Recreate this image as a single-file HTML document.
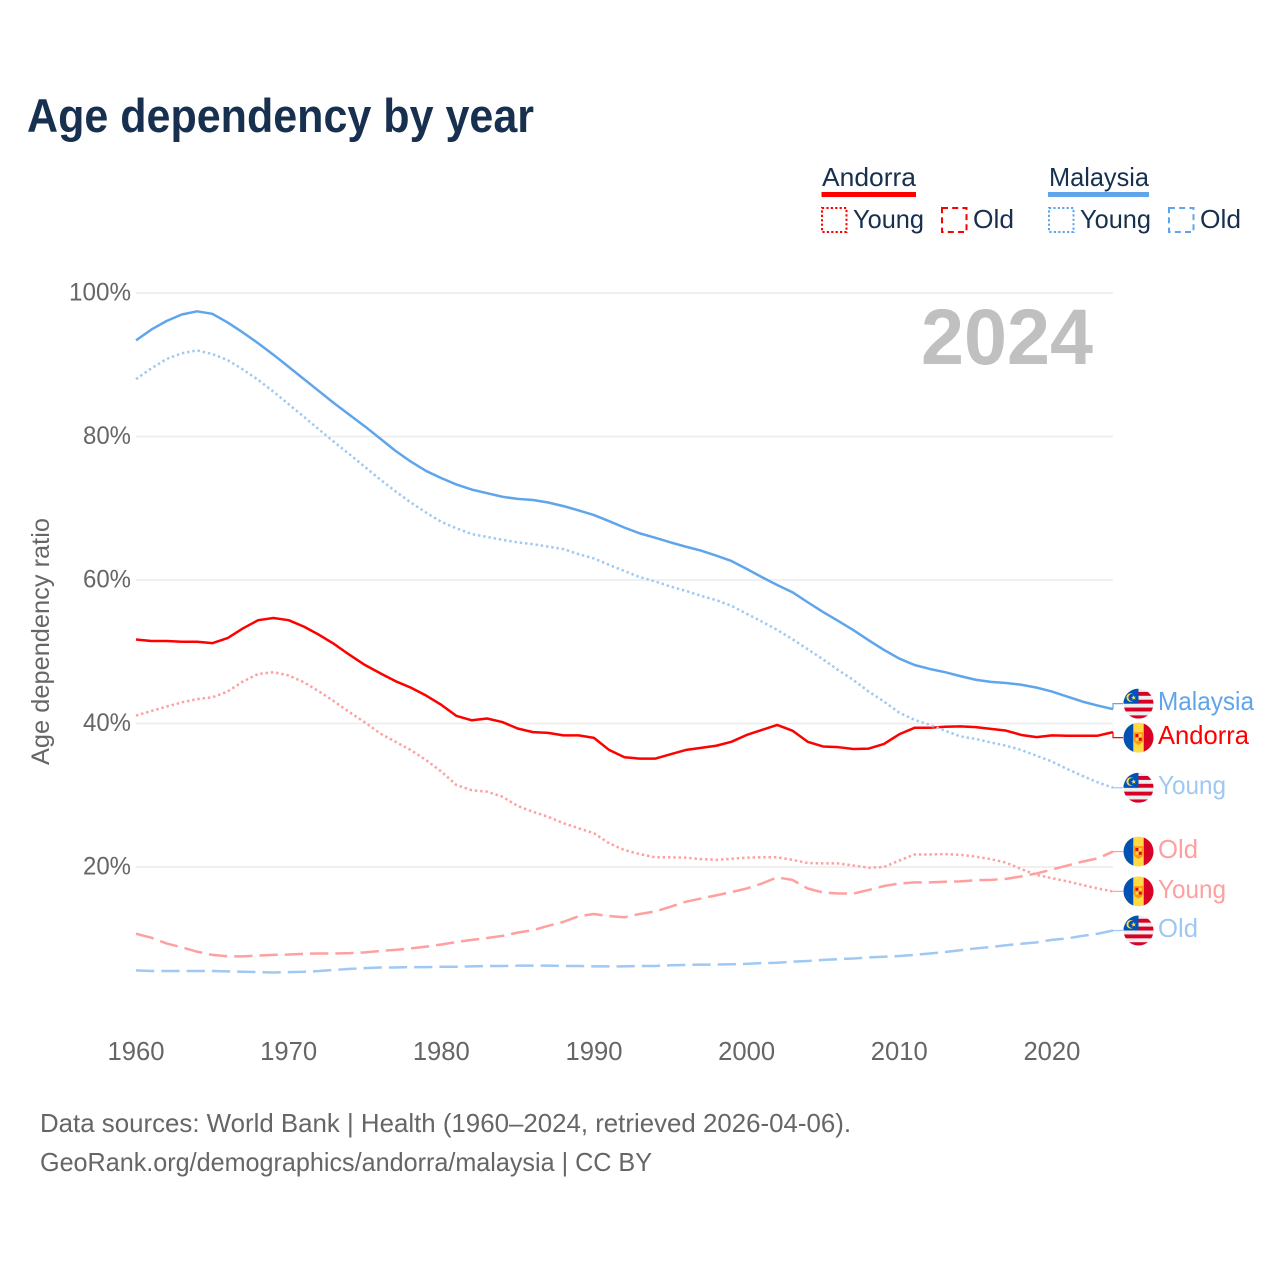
<!DOCTYPE html>
<html lang="en">
<head>
<meta charset="utf-8">
<title>Age dependency by year</title>
<style>
  html, body { margin: 0; padding: 0; background: #fff; }
  svg { display: block; font-family: "Liberation Sans", sans-serif; }
</style>
</head>
<body>
<svg id="chart" xmlns="http://www.w3.org/2000/svg" width="1280" height="1280" viewBox="0 0 1280 1280">
  <defs>
    <clipPath id="flag-clip"><circle cx="256" cy="256" r="256"/></clipPath>
    <symbol id="flag-malaysia" viewBox="0 0 512 512">
      <g clip-path="url(#flag-clip)">
        <rect width="512" height="512" fill="#eeeeee"/>
        <rect y="55.6" width="512" height="66.8" fill="#d80027"/>
        <rect y="189.2" width="512" height="66.8" fill="#d80027"/>
        <rect y="322.8" width="512" height="66.8" fill="#d80027"/>
        <rect y="456.4" width="512" height="56" fill="#d80027"/>
        <rect width="256" height="256" fill="#0052b4"/>
        <circle cx="122" cy="152" r="72" fill="#ffda44"/>
        <circle cx="146" cy="152" r="62" fill="#0052b4"/>
        <polygon points="172,112 182,140 212,136 192,158 206,186 176,174 152,192 156,162 132,146 160,138" fill="#ffda44"/>
      </g>
    </symbol>
    <symbol id="flag-andorra" viewBox="0 0 512 512">
      <g clip-path="url(#flag-clip)">
        <rect width="512" height="512" fill="#ffda44"/>
        <rect width="167" height="512" fill="#0052b4"/>
        <rect x="345" width="167" height="512" fill="#d80027"/>
        <path d="M178 165h156v130q0 50-78 85q-78-35-78-85z" fill="#ff9811"/>
        <rect x="205" y="195" width="48" height="48" fill="#d80027"/>
        <rect x="262" y="262" width="48" height="48" fill="#d80027"/>
        <rect x="262" y="195" width="48" height="48" fill="#ffda44"/>
        <rect x="205" y="262" width="48" height="48" fill="#ffda44"/>
      </g>
    </symbol>
  </defs>

  <text x="27" y="132" font-size="47" font-weight="700" fill="#17304f" textLength="507" lengthAdjust="spacingAndGlyphs">Age dependency by year</text>

  <g font-size="26" fill="#17304f">
    <g>
      <text x="822" y="186" textLength="94" lengthAdjust="spacingAndGlyphs">Andorra</text>
      <rect x="821.5" y="192" width="94.5" height="5" fill="#ff0000"/>
      <rect x="822" y="208" width="24.5" height="24" fill="none" stroke="#ff0000" stroke-width="2" stroke-dasharray="2.2 2.2"/>
      <text x="853" y="228" textLength="71" lengthAdjust="spacingAndGlyphs">Young</text>
      <rect x="942" y="208" width="24.5" height="24" fill="none" stroke="#ff0000" stroke-width="2" stroke-dasharray="6 4.2"/>
      <text x="973" y="228" textLength="41" lengthAdjust="spacingAndGlyphs">Old</text>
    </g>
    <g>
      <text x="1049" y="186" textLength="100" lengthAdjust="spacingAndGlyphs">Malaysia</text>
      <rect x="1048" y="192" width="101" height="5" fill="#5fa5ec"/>
      <rect x="1049" y="208" width="24.5" height="24" fill="none" stroke="#5fa5ec" stroke-width="2" stroke-dasharray="2.2 2.2"/>
      <text x="1080" y="228" textLength="71" lengthAdjust="spacingAndGlyphs">Young</text>
      <rect x="1169" y="208" width="24.5" height="24" fill="none" stroke="#5fa5ec" stroke-width="2" stroke-dasharray="6 4.2"/>
      <text x="1200" y="228" textLength="41" lengthAdjust="spacingAndGlyphs">Old</text>
    </g>
  </g>

  <g id="grid"></g>
  <g id="y-axis"></g>
  <g id="x-axis"></g>

  <text transform="translate(49,765) rotate(-90)" font-size="25" fill="#666666" textLength="247" lengthAdjust="spacingAndGlyphs">Age dependency ratio</text>

  <text x="921" y="364" font-size="79" font-weight="700" fill="#c0c0c0" textLength="172" lengthAdjust="spacingAndGlyphs">2024</text>

  <g id="series"></g>
  <g id="end-labels"></g>

  <text x="40" y="1132" font-size="26" fill="#666666" textLength="811" lengthAdjust="spacingAndGlyphs">Data sources: World Bank | Health (1960–2024, retrieved 2026-04-06).</text>
  <text x="40" y="1171" font-size="26" fill="#666666" textLength="612" lengthAdjust="spacingAndGlyphs">GeoRank.org/demographics/andorra/malaysia | CC BY</text>
</svg>

<script>
const years = [1960,1961,1962,1963,1964,1965,1966,1967,1968,1969,1970,1971,1972,1973,1974,1975,1976,1977,1978,1979,1980,1981,1982,1983,1984,1985,1986,1987,1988,1989,1990,1991,1992,1993,1994,1995,1996,1997,1998,1999,2000,2001,2002,2003,2004,2005,2006,2007,2008,2009,2010,2011,2012,2013,2014,2015,2016,2017,2018,2019,2020,2021,2022,2023,2024];
const xTicks = [1960,1970,1980,1990,2000,2010,2020];
const yTicks = [20,40,60,80,100];

const malaysiaTotal = [93.4,94.9,96.1,97.0,97.45,97.1,95.9,94.5,93.0,91.4,89.7,88.0,86.3,84.6,83.0,81.4,79.7,78.0,76.5,75.2,74.2,73.3,72.6,72.1,71.6,71.3,71.15,70.8,70.3,69.7,69.05,68.2,67.3,66.5,65.9,65.25,64.65,64.1,63.4,62.65,61.55,60.4,59.3,58.3,56.9,55.55,54.3,53.0,51.6,50.25,49.05,48.15,47.6,47.15,46.6,46.1,45.8,45.65,45.4,45.0,44.45,43.75,43.05,42.5,42.0];
const malaysiaYoung = [88.0,89.5,90.8,91.6,92.0,91.5,90.65,89.35,87.9,86.25,84.5,82.75,80.95,79.2,77.5,75.75,74.0,72.35,70.8,69.4,68.1,67.2,66.4,66.0,65.6,65.25,65.0,64.65,64.3,63.6,63.0,62.1,61.25,60.4,59.8,59.1,58.5,57.8,57.2,56.4,55.3,54.2,53.05,51.75,50.35,48.95,47.45,46.05,44.45,43.05,41.5,40.5,39.8,39.0,38.2,37.85,37.35,36.9,36.3,35.5,34.7,33.65,32.7,31.8,31.05];
const malaysiaOld = [5.6,5.5,5.5,5.5,5.5,5.5,5.45,5.4,5.35,5.3,5.35,5.4,5.5,5.65,5.8,5.9,6.0,6.0,6.05,6.05,6.1,6.1,6.15,6.2,6.2,6.25,6.25,6.25,6.2,6.2,6.15,6.15,6.15,6.2,6.2,6.3,6.35,6.4,6.4,6.45,6.5,6.6,6.65,6.8,6.9,7.05,7.15,7.25,7.4,7.5,7.6,7.75,7.95,8.15,8.4,8.65,8.85,9.1,9.3,9.5,9.85,10.05,10.4,10.7,11.15];
const andorraTotal = [51.7,51.5,51.5,51.4,51.4,51.2,51.9,53.25,54.4,54.7,54.4,53.5,52.35,51.05,49.55,48.15,47.0,45.9,45.0,43.9,42.6,41.05,40.45,40.7,40.2,39.3,38.8,38.7,38.35,38.35,38.0,36.3,35.3,35.1,35.1,35.7,36.3,36.6,36.9,37.45,38.4,39.1,39.8,39.0,37.45,36.8,36.7,36.45,36.5,37.15,38.5,39.4,39.4,39.55,39.6,39.5,39.25,39.0,38.4,38.1,38.35,38.3,38.3,38.3,38.8];
const andorraYoung = [41.1,41.75,42.35,42.95,43.4,43.65,44.45,45.85,46.9,47.15,46.7,45.75,44.45,43.05,41.55,40.15,38.6,37.45,36.3,34.9,33.3,31.4,30.7,30.5,29.8,28.5,27.7,27.0,26.1,25.4,24.7,23.3,22.35,21.8,21.35,21.35,21.3,21.1,21.0,21.15,21.3,21.35,21.35,21.0,20.55,20.5,20.5,20.2,19.9,20.0,20.9,21.75,21.75,21.8,21.7,21.45,21.1,20.6,19.7,18.9,18.45,18.0,17.5,17.0,16.6];
const andorraOld = [10.7,10.15,9.35,8.8,8.2,7.75,7.55,7.55,7.65,7.75,7.8,7.9,7.95,7.95,8.0,8.1,8.3,8.45,8.65,8.9,9.2,9.55,9.85,10.1,10.4,10.85,11.2,11.8,12.35,13.15,13.45,13.15,13.0,13.45,13.8,14.45,15.15,15.6,16.05,16.5,17.0,17.7,18.55,18.2,17.0,16.45,16.3,16.3,16.8,17.35,17.7,17.85,17.85,17.95,18.0,18.15,18.2,18.35,18.7,19.1,19.65,20.2,20.75,21.2,22.15];

const seriesList = [
  { id: 'andorra-total', label: 'Andorra', flag: 'flag-andorra', values: andorraTotal, color: '#ff0000', dash: '' },
  { id: 'andorra-young', label: 'Young', flag: 'flag-andorra', values: andorraYoung, color: '#ff9f9f', dash: '2.4 2.9' },
  { id: 'andorra-old', label: 'Old', flag: 'flag-andorra', values: andorraOld, color: '#ff9f9f', dash: '18.3 7' },
  { id: 'malaysia-total', label: 'Malaysia', flag: 'flag-malaysia', values: malaysiaTotal, color: '#5fa5ec', dash: '' },
  { id: 'malaysia-young', label: 'Young', flag: 'flag-malaysia', values: malaysiaYoung, color: '#9fc8f3', dash: '2.4 2.9' },
  { id: 'malaysia-old', label: 'Old', flag: 'flag-malaysia', values: malaysiaOld, color: '#9fc8f3', dash: '18.3 7' }
];

const labelWidths = { Malaysia: 96, Andorra: 91, Young: 68, Old: 40 };
const SVG_NS = 'http://www.w3.org/2000/svg';
const plotLeft = 136, plotRight = 1113, y100 = 293, pxPerPercent = 7.175;

function xScale(year) {
  return plotLeft + (year - years[0]) * (plotRight - plotLeft) / (years[years.length - 1] - years[0]);
}
function yScale(value) {
  return y100 + (100 - value) * pxPerPercent;
}
function make(tag, attrs) {
  const el = document.createElementNS(SVG_NS, tag);
  for (const k in attrs) el.setAttribute(k, attrs[k]);
  return el;
}

const grid = document.getElementById('grid');
const yAxis = document.getElementById('y-axis');
const xAxis = document.getElementById('x-axis');
const seriesGroup = document.getElementById('series');
const endLabels = document.getElementById('end-labels');

yTicks.forEach(function (t) {
  const line = make('line', { x1: plotLeft, x2: plotRight, y1: yScale(t), y2: yScale(t), stroke: '#ececec', 'stroke-width': 1.5 });
  
  
  grid.appendChild(line);
  const text = make('text', { x: 131, y: yScale(t) + 7.5, 'text-anchor': 'end', 'font-size': 25, fill: '#666666', textLength: t === 100 ? 62 : 48, lengthAdjust: 'spacingAndGlyphs' });
  
  
  text.textContent = t + '%';
  yAxis.appendChild(text);
});

xTicks.forEach(function (t) {
  const text = make('text', { x: xScale(t), y: 1060, 'text-anchor': 'middle', 'font-size': 25.5, fill: '#666666', textLength: 57, lengthAdjust: 'spacingAndGlyphs' });
  
  
  text.textContent = t;
  xAxis.appendChild(text);
});

seriesList.forEach(function (s) {
  const d = s.values.map(function (v, i) {
    return (i ? 'L' : 'M') + xScale(years[i]).toFixed(2) + ' ' + yScale(v).toFixed(2);
  }).join(' ');
  const path = make('path', { d: d, fill: 'none', stroke: s.color, 'stroke-width': 2.5, 'stroke-linejoin': 'round' });
  if (s.dash) path.setAttribute('stroke-dasharray', s.dash);
  
  
  seriesGroup.appendChild(path);
});

/* End labels: start at the last value and push overlapping labels apart. */
const minGap = 34;
const placed = seriesList.map(function (s) {
  const endY = yScale(s.values[s.values.length - 1]);
  return { s: s, endY: endY, y: endY };
}).sort(function (a, b) { return a.endY - b.endY; });
for (let pass = 0; pass < 10; pass++) {
  for (let i = 1; i < placed.length; i++) {
    const gap = placed[i].y - placed[i - 1].y;
    if (gap < minGap) {
      const shift = (minGap - gap) / 2;
      placed[i - 1].y -= shift;
      placed[i].y += shift;
    }
  }
}
placed.forEach(function (p) {
  const s = p.s;
  const connector = make('polyline', { points: plotRight + ',' + p.endY + ' ' + plotRight + ',' + p.y + ' ' + (plotRight + 10) + ',' + p.y, fill: 'none', stroke: s.color, 'stroke-width': 1.2 });
  
  
  endLabels.appendChild(connector);
  const flag = make('use', { href: '#' + s.flag, x: 1123.5, y: p.y - 15, width: 30, height: 30 });
  
  
  endLabels.appendChild(flag);
  const text = make('text', { x: 1158, y: p.y + 6.5, 'font-size': 26, fill: s.color, textLength: labelWidths[s.label], lengthAdjust: 'spacingAndGlyphs' });
  
  
  text.textContent = s.label;
  endLabels.appendChild(text);
});
</script>
</body>
</html>
